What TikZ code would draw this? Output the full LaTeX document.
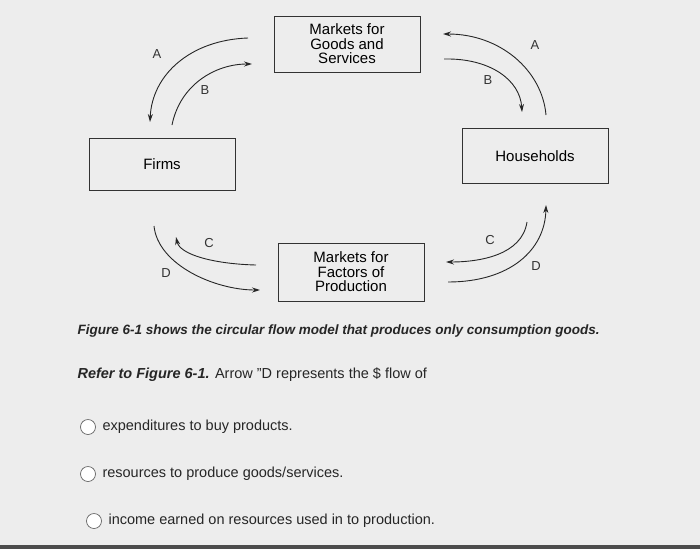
\documentclass[tikz,border=0pt]{standalone}
\usepackage{fontspec}
\setmainfont{Liberation Sans}
\usetikzlibrary{arrows.meta}
\begin{document}
\begin{tikzpicture}[x=1pt,y=-1pt,
  box/.style={draw=black!80,line width=0.9pt,minimum width=146pt,align=center,font=\fontsize{15}{14.5}\selectfont,inner sep=2pt},
  flow/.style={draw=black!85,line width=0.9pt,-{Stealth[length=8pt,width=5pt]}},
  lab/.style={font=\fontsize{13}{13}\selectfont,text=black!80},
  radio/.style={circle,draw=black!60,line width=0.7pt,minimum size=15pt,inner sep=0pt,fill=white},
  ans/.style={anchor=west,font=\fontsize{14.5}{14.5}\selectfont,text=black!85}]
\fill[black!7] (0,0) rectangle (700,549);
\useasboundingbox (0,0) rectangle (700,549);
\node[box,minimum height=56pt] (mg) at (347,44) {Markets for\\Goods and\\Services};
\node[box,minimum height=52pt] (fi) at (162,164) {Firms};
\node[box,minimum height=55pt] (hh) at (535,156) {Households};
\node[box,minimum height=58pt] (mf) at (351,272) {Markets for\\Factors of\\Production};
% top left
\coordinate (a1s) at (248,38); \coordinate (a1e) at (150,122);
\coordinate (b1s) at (172,125); \coordinate (b1e) at (252,64);
\draw[flow] (a1s) .. controls (190,40) and (152,75) .. (a1e);
\draw[flow] (b1s) .. controls (180,85) and (215,64) .. (b1e);
\node[lab] (la1) at (157,54) {A};
\node[lab] (lb1) at (205,90) {B};
% top right
\coordinate (a2s) at (546,115); \coordinate (a2e) at (443,34);
\coordinate (b2s) at (444,59); \coordinate (b2e) at (522,112);
\draw[flow] (a2s) .. controls (542,70) and (500,34) .. (a2e);
\draw[flow] (b2s) .. controls (490,58) and (520,80) .. (b2e);
\node[lab] (la2) at (535,45) {A};
\node[lab] (lb2) at (488,80) {B};
% bottom left
\coordinate (d1s) at (154,226); \coordinate (d1e) at (260,290);
\coordinate (c1s) at (256,265); \coordinate (c1e) at (176,237);
\draw[flow] (d1s) .. controls (158,265) and (215,290) .. (d1e);
\draw[flow] (c1s) .. controls (215,264) and (180,255) .. (c1e);
\node[lab] (lc1) at (209,243) {C};
\node[lab] (ld1) at (166,273) {D};
% bottom right
\coordinate (c2s) at (527,222); \coordinate (c2e) at (446,262);
\coordinate (d2s) at (448,282); \coordinate (d2e) at (546,205);
\draw[flow] (c2s) .. controls (522,255) and (480,262) .. (c2e);
\draw[flow] (d2s) .. controls (510,282) and (545,250) .. (d2e);
\node[lab] (lc2) at (490,240) {C};
\node[lab] (ld2) at (536,266) {D};
% text
\node[anchor=west,font=\bfseries\itshape\fontsize{13.5}{13.5}\selectfont,text=black!85] (t1) at (74,331) {Figure 6-1 shows the circular flow model that produces only consumption goods.};
\node[anchor=west,font=\fontsize{14.5}{14.5}\selectfont,text=black!85] (t2) at (74,375) {\textbf{\textit{Refer to Figure 6-1.}} Arrow "D represents the \$ flow of};
\node[radio] (r1) at (88,427) {};
\node[ans] (o1) at (99,427) {expenditures to buy products.};
\node[radio] (r2) at (88,474) {};
\node[ans] (o2) at (99,474) {resources to produce goods/services.};
\node[radio] (r3) at (94,521) {};
\node[ans] (o3) at (105,521) {income earned on resources used in to production.};
\fill[black!70] (0,545) rectangle (700,549);
\end{tikzpicture}
\end{document}
